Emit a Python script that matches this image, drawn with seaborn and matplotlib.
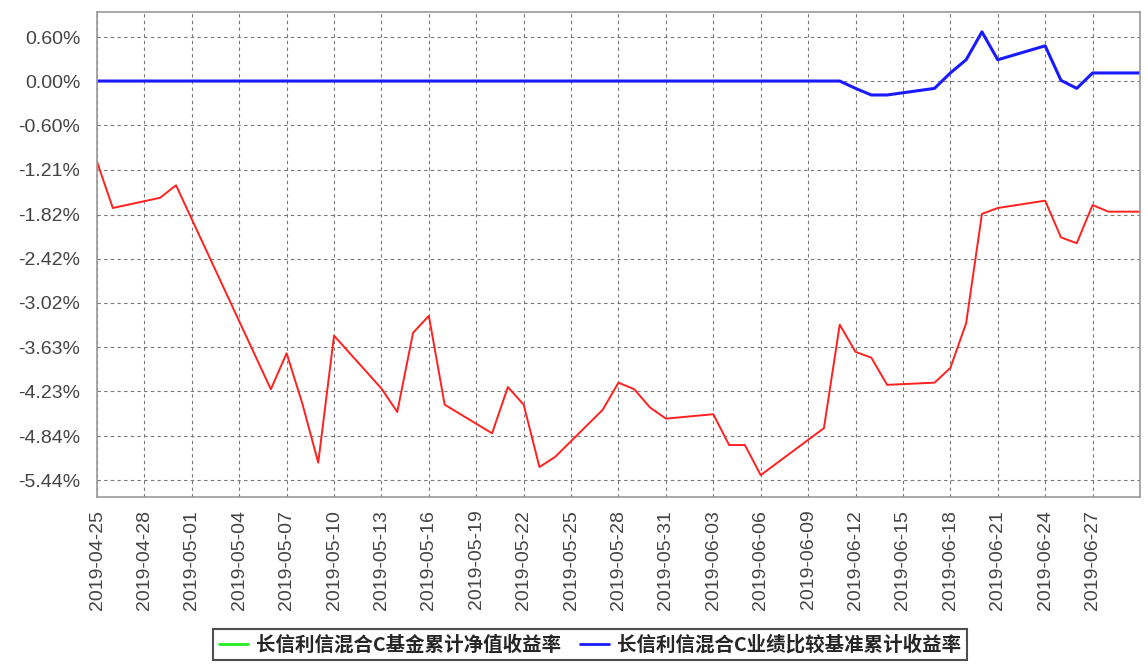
import matplotlib
matplotlib.use("Agg")
import matplotlib.pyplot as plt
import matplotlib.dates as mdates
from matplotlib.lines import Line2D
import seaborn as sns
import pandas as pd

# data (cumulative returns, %)
dates = ["2019-04-25", "2019-04-26", "2019-04-29", "2019-04-30", "2019-05-06",
         "2019-05-07", "2019-05-08", "2019-05-09", "2019-05-10", "2019-05-13",
         "2019-05-14", "2019-05-15", "2019-05-16", "2019-05-17", "2019-05-20",
         "2019-05-21", "2019-05-22", "2019-05-23", "2019-05-24", "2019-05-27",
         "2019-05-28", "2019-05-29", "2019-05-30", "2019-05-31", "2019-06-03",
         "2019-06-04", "2019-06-05", "2019-06-06", "2019-06-10", "2019-06-11",
         "2019-06-12", "2019-06-13", "2019-06-14", "2019-06-17", "2019-06-18",
         "2019-06-19", "2019-06-20", "2019-06-21", "2019-06-24", "2019-06-25",
         "2019-06-26", "2019-06-27", "2019-06-28", "2019-06-30"]
fund = [-1.10, -1.73, -1.59, -1.42, -4.20,
        -3.71, -4.40, -5.20, -3.47, -4.19,
        -4.51, -3.43, -3.20, -4.41, -4.80,
        -4.17, -4.41, -5.26, -5.12, -4.48,
        -4.11, -4.20, -4.45, -4.60, -4.54,
        -4.96, -4.96, -5.37, -4.73, -3.32,
        -3.69, -3.77, -4.14, -4.11, -3.91,
        -3.30, -1.81, -1.73, -1.63, -2.13,
        -2.21, -1.69, -1.78, -1.78]
benchmark = [0.00, 0.00, 0.00, 0.00, 0.00,
             0.00, 0.00, 0.00, 0.00, 0.00,
             0.00, 0.00, 0.00, 0.00, 0.00,
             0.00, 0.00, 0.00, 0.00, 0.00,
             0.00, 0.00, 0.00, 0.00, 0.00,
             0.00, 0.00, 0.00, 0.00, 0.00,
             -0.10, -0.19, -0.19, -0.10, 0.11,
             0.29, 0.67, 0.29, 0.48, 0.01,
             -0.10, 0.11, 0.11, 0.11]
y_ticklabels = ["0.60%", "0.00%", "-0.60%", "-1.21%", "-1.82%", "-2.42%",
                "-3.02%", "-3.63%", "-4.23%", "-4.84%", "-5.44%"]
fund_label = "长信利信混合C基金累计净值收益率"
bench_label = "长信利信混合C业绩比较基准累计收益率"

df = pd.DataFrame({"date": pd.to_datetime(dates), "fund": fund, "benchmark": benchmark})

sns.set_style("white")
plt.rcParams["font.family"] = ["Noto Sans CJK SC", "DejaVu Sans"]

fig = plt.figure(figsize=(11.48, 6.70), dpi=100)
ax = fig.add_axes([0.0845, 0.258, 0.9085, 0.724])

sns.lineplot(data=df, x="date", y="benchmark", ax=ax, color="#1a1aff", linewidth=2.2)
sns.lineplot(data=df, x="date", y="fund", ax=ax, color="#ff2020", linewidth=1.4)

ax.set_xlim(pd.Timestamp("2019-04-25"), pd.Timestamp("2019-06-30"))
ax.set_ylim(-5.67, 0.94)
ax.set_xlabel("")
ax.set_ylabel("")

xt = pd.date_range("2019-04-25", "2019-06-27", freq="3D")
ax.set_xticks(xt)
ax.xaxis.set_major_formatter(mdates.DateFormatter("%Y-%m-%d"))
ax.set_yticks([float(s.rstrip("%")) for s in y_ticklabels])
ax.set_yticklabels(y_ticklabels)

for lab in ax.get_xticklabels():
    lab.set_rotation(90)
    lab.set_family(["Liberation Sans", "DejaVu Sans"])
    lab.set_fontsize(14)
    lab.set_color("#444444")
for lab in ax.get_yticklabels():
    lab.set_family(["Liberation Sans", "DejaVu Sans"])
    lab.set_fontsize(14)
    lab.set_color("#444444")

ax.tick_params(axis="y", length=4, color="#888888", direction="out", pad=8)
ax.tick_params(axis="x", length=4, color="#888888", direction="out", pad=5)
ax.grid(True, color="#777777", linestyle=(0, (3, 3)), linewidth=0.8)
for s in ax.spines.values():
    s.set_color("#999999")
    s.set_linewidth(1.2)

handles = [Line2D([0], [0], color="#22ee22", linewidth=2),
           Line2D([0], [0], color="#1a1aff", linewidth=2)]
leg = fig.legend(handles, [fund_label, bench_label], loc="lower center",
                 bbox_to_anchor=(0.514, 0.0), ncol=2, frameon=True, fancybox=False,
                 handlelength=1.5, handletextpad=0.4, columnspacing=1.0,
                 borderpad=0.3, prop={"family": ["Noto Sans CJK SC", "DejaVu Sans"],
                                      "weight": "bold", "size": 14})
leg.get_frame().set_edgecolor("#222222")
leg.get_frame().set_linewidth(1.5)

fig.savefig("out.png", dpi=100, facecolor="white")
